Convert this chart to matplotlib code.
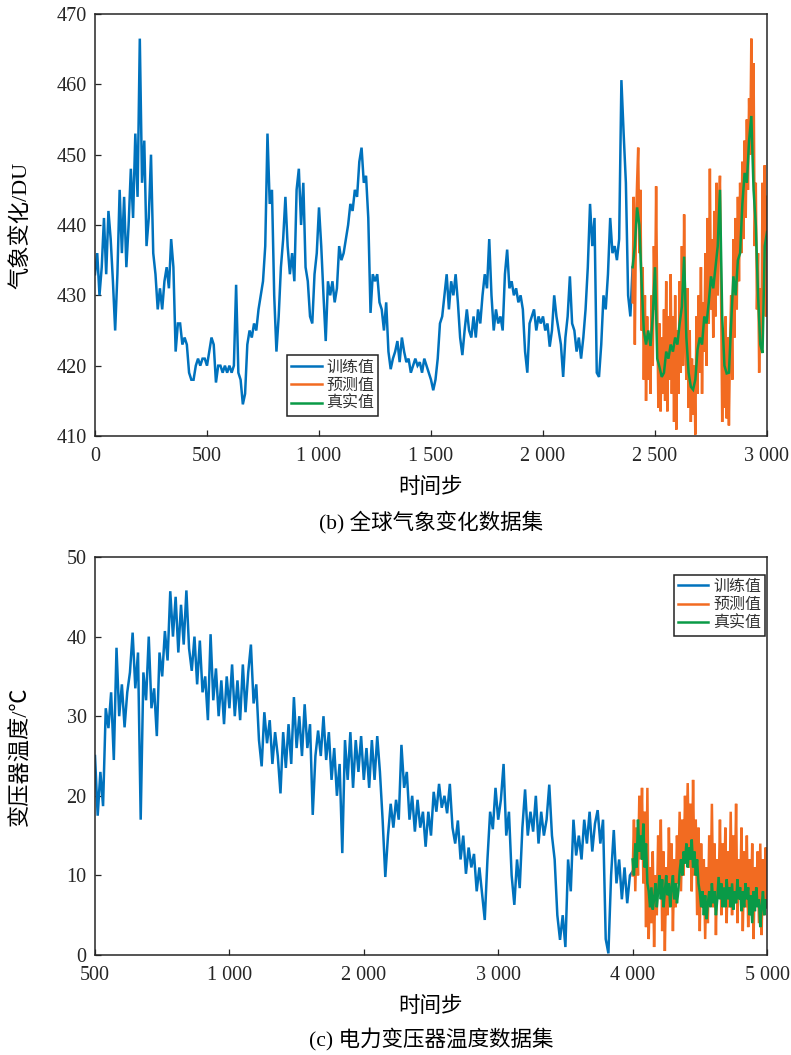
import numpy as np
import matplotlib
matplotlib.use("Agg")
import matplotlib.pyplot as plt

plt.rcParams['font.family'] = ['Liberation Serif', 'Noto Sans CJK SC', 'DejaVu Sans']
plt.rcParams['axes.unicode_minus'] = False

# ---------------- (b) global climate dataset ----------------
top_train_start, top_train_step = 0, 10
top_train = [
    433, 436, 430, 434, 441, 433, 442, 438, 432, 425,
    433, 445, 436, 444, 434, 440, 448, 441, 453, 444,
    466.5, 446, 452, 437, 441, 450, 436, 433, 428, 431,
    428, 432, 434, 431, 438, 434, 422, 426, 426, 423,
    424, 423, 419, 418, 418, 420, 421, 420, 421, 421,
    420, 422, 424, 423, 417.6, 420, 420, 419, 420, 419,
    420, 419, 420, 431.5, 419, 418, 414.5, 416, 423, 425,
    424, 426, 425, 428, 430, 432, 437, 453, 443, 445,
    430, 422, 427, 434, 438, 444, 437, 433, 436, 432,
    445, 448, 440, 446, 434, 432, 427, 426, 433, 436,
    442.5, 437, 430, 423.5, 432, 430, 432, 429, 431, 437,
    435, 436, 438, 440, 443, 442, 445, 444, 449, 451,
    446, 447, 441, 427.5, 433, 432, 433, 429, 428, 425,
    429, 422, 419.5, 421, 422, 423.5, 420.5, 424, 422, 420.5,
    421, 419, 420, 421, 420, 420.5, 419, 421, 420, 419,
    418, 416.5, 418, 421, 426, 427, 430, 433, 428, 432,
    430, 433, 429, 424, 421.5, 425, 428, 425, 424, 427,
    424, 428, 426, 430, 433, 431, 438, 430, 425, 428,
    426, 427, 425, 433, 436.5, 431, 432, 430, 431, 429,
    430, 428, 422, 419, 426, 427, 428, 425, 427, 426,
    427, 425, 426, 422.7, 425, 430, 427, 425, 423, 418.4,
    424, 427, 432.7, 426, 425, 422, 424, 421, 424, 428,
    434, 443, 437, 441, 419, 418.4, 423, 430, 428, 433,
    441, 436, 437, 435, 438, 460.6, 453, 446, 430, 427,
    434,
]
top_pred_start, top_pred_step = 2400, 5
top_pred = [
    429, 444, 423, 440, 446, 451, 436, 445, 425, 434,
    418, 430, 415, 427, 418, 424, 416, 430, 420, 437,
    428, 445.5, 428, 414, 426, 413.5, 424, 416, 428, 415,
    432, 413.5, 427, 418, 433, 416, 427, 412, 430, 410.9,
    425, 416, 432, 419, 437, 420, 441.5, 425, 418, 431,
    414, 425, 412, 421, 413, 420, 410.2, 427, 416, 430,
    419, 434, 416, 429, 422, 436, 420, 441, 426, 448,
    428, 438, 424, 442, 427, 446, 430, 441, 447, 430,
    412, 425, 414, 427, 412.5, 424, 411.5, 423, 430, 418,
    438, 424, 441, 428, 444, 432, 446, 436, 449, 438,
    452, 441, 455, 445, 458, 450, 466.5, 452, 463, 437,
    446, 428, 436, 419, 431, 422, 446, 431, 448.5, 427,
    444,
]
top_true_start, top_true_step = 2400, 10
top_true = [
    434, 437, 442.5, 440, 432, 425, 423, 425, 422.8, 427,
    434, 421, 419.8, 418.4, 419, 422, 421, 423, 422, 424,
    423, 426, 428.4, 435.5, 424, 419, 417, 416.6, 418, 422.3,
    424, 423, 427, 426, 429, 432.7, 431, 434, 437, 445,
    427, 420, 418.9, 419, 426, 432.7, 430, 435, 436, 443,
    447.4, 446, 452, 455.5, 445, 440, 430, 423, 421.8, 437,
    439,
]
top_xticks = [0, 500, 1000, 1500, 2000, 2500, 3000]
top_xticklabels = ['0', '500', '1 000', '1 500', '2 000', '2 500', '3 000']
top_yticks = [410, 420, 430, 440, 450, 460, 470]

# ---------------- (c) power transformer temperature dataset ----------------
bot_train_start, bot_train_step = 0, 20
bot_train = [
    25, 17.5, 23, 18.7, 31, 28.5, 33, 24.5, 38.6, 30,
    34, 28.6, 33, 35.5, 40.5, 33.5, 38, 17, 35.5, 32,
    40, 31, 33.5, 27.5, 38, 35, 40.7, 37, 45.7, 40,
    45, 38, 44, 39, 45.8, 38.5, 35.7, 40, 34, 39.5,
    33, 35, 29.5, 40.3, 32, 36, 30, 34.5, 29, 35,
    31, 36.5, 30, 34.5, 29.5, 36.5, 30.5, 35.5, 39, 31.6,
    34, 27, 23.7, 30.5, 26.6, 29.5, 24, 28, 25, 20.3,
    28, 23.5, 29, 24, 32.4, 26, 30, 25, 31.5, 26,
    29, 17.6, 25, 28.2, 25, 30, 24.5, 28, 22, 26,
    20, 24, 12.8, 27, 22, 28, 21, 27, 23, 27.5,
    22, 26, 21, 27, 22, 27.5, 23, 17, 9.8, 15,
    19, 16, 19.5, 17, 26.4, 21, 23, 17, 20, 15.5,
    19.5, 16, 18, 13.6, 18, 15, 20.5, 18, 21.5, 18.5,
    20, 17.8, 21.5, 16, 14, 16.9, 12, 15, 10.2, 13.5,
    11, 12.7, 8, 11, 7.7, 4.4, 12, 18, 15.8, 21,
    17, 19.5, 24, 15, 18, 10, 6.3, 12, 8.4, 16,
    20.8, 15, 18, 15.5, 20, 14, 18, 15, 17, 21.4,
    15, 12, 5, 1.9, 5, 1, 12, 8, 17, 12.5,
    15, 12, 17, 14, 18, 13, 16.5, 18.2, 14, 17,
    2, 0.2, 10, 15.7, 9, 12, 7, 11, 6.5, 10,
    10.5,
]
bot_pred_start, bot_pred_step = 4000, 10
bot_pred = [
    10, 17, 8, 16, 10, 20, 12, 21, 9, 18,
    3.5, 21, 2, 11, 4, 13, 1, 10, 5, 15,
    8, 17, 3, 13, 0.5, 11, 5, 16, 7, 14,
    3, 12, 6, 15, 9, 18, 8, 17, 10, 20,
    12, 21.6, 11, 19, 8, 22, 10, 17, 5, 16,
    3, 14, 6, 12, 2, 11, 4, 15, 7, 19,
    6, 14, 2.5, 12, 8, 17, 5, 14, 7, 16,
    4, 13, 6, 18, 5, 15, 8, 19, 4, 12,
    7, 16, 3, 13, 6, 15, 3.5, 12, 5, 14,
    2, 11, 7, 13, 4, 14, 2.5, 12, 5, 13.5,
    7,
]
bot_true_start, bot_true_step = 4000, 10
bot_true = [
    12, 10, 14, 11, 17, 13, 15, 12, 16.5, 11,
    14, 9, 8, 6, 8.5, 5.7, 7, 9, 6, 8,
    10, 7, 9.5, 6, 8, 10, 7.5, 9, 6, 8.5,
    10, 7, 9, 6.5, 8, 10.5, 12, 10, 13, 11.5,
    14, 11, 13.5, 12, 14.5, 11, 13, 10, 12, 9,
    7.9, 6, 8, 5, 7.5, 4.5, 6.5, 8, 6, 9,
    6.5, 8, 5, 7, 9.8, 7, 9, 6, 8.5, 6,
    9.5, 7, 8.5, 6, 9, 5.7, 8, 6.5, 9.5, 7,
    8.5, 5.5, 8, 6, 9, 7, 8.5, 5, 7.5, 4,
    8, 5.5, 8.5, 6, 7, 3.5, 6, 8, 5, 7,
    6,
]
bot_xticks = [0, 1000, 2000, 3000, 4000, 5000]
bot_xticklabels = ['500', '1 000', '2 000', '3 000', '4 000', '5 000']
bot_yticks = [0, 10, 20, 30, 40, 50]

legend_labels = ['训练值', '预测值', '真实值']
colors = ['#0072BD', '#F26B21', '#0A9A47']


def xs(start, step, vals):
    return start + step * np.arange(len(vals))


fig = plt.figure(figsize=(7.91, 10.55), dpi=100)
W, H = 791, 1055
ax1 = fig.add_axes([95 / W, 1 - 436 / H, 672 / W, 422 / H])
ax2 = fig.add_axes([95 / W, 1 - 955 / H, 672 / W, 398 / H])

lw = 1.8
for ax, (tr, pr, tt) in [
    (ax1, ((top_train_start, top_train_step, top_train),
           (top_pred_start, top_pred_step, top_pred),
           (top_true_start, top_true_step, top_true))),
    (ax2, ((bot_train_start, bot_train_step, bot_train),
           (bot_pred_start, bot_pred_step, bot_pred),
           (bot_true_start, bot_true_step, bot_true))),
]:
    for (s, st, v), c, lab in zip((tr, pr, tt), colors, legend_labels):
        ax.plot(xs(s, st, v), v, color=c, lw=lw, label=lab, solid_joinstyle='miter')

ax1.set_xlim(0, 3000)
ax1.set_ylim(410, 470)
ax1.set_xticks(top_xticks)
ax1.set_xticklabels(top_xticklabels)
ax1.set_yticks(top_yticks)

ax2.set_xlim(0, 5000)
ax2.set_ylim(0, 50)
ax2.set_xticks(bot_xticks)
ax2.set_xticklabels(bot_xticklabels)
ax2.set_yticks(bot_yticks)

for ax in (ax1, ax2):
    for sp in ax.spines.values():
        sp.set_linewidth(1.1)
        sp.set_color('#262626')
    ax.tick_params(direction='in', length=4, width=0.9, top=False, right=False,
                   labelsize=14.5, colors='#262626')
    ax.tick_params(axis='y', pad=6)
    ax.tick_params(axis='x', pad=8)

ax1.set_xlabel('时间步', fontsize=15.5)
ax1.xaxis.set_label_coords(0.5, -0.1)
ax1.set_ylabel('气象变化/DU', fontsize=16)
ax1.yaxis.set_label_coords(-0.094, 0.5)

ax2.set_xlabel('时间步', fontsize=15.5)
ax2.xaxis.set_label_coords(0.5, -0.105)
ax2.set_ylabel('变压器温度/℃', fontsize=16)
ax2.yaxis.set_label_coords(-0.094, 0.5)

cx = (95 + 767) / 2 / W
fig.text(cx, 1 - 522 / H, '(b) 全球气象变化数据集', ha='center', va='center', fontsize=15.5)
fig.text(cx, 1 - 1040 / H, '(c) 电力变压器温度数据集', ha='center', va='center', fontsize=15.5)

leg_kw = dict(fontsize=11.5, frameon=True, fancybox=False, framealpha=1,
              edgecolor='#222222', borderpad=0.25, labelspacing=0.15,
              handlelength=1.9, handletextpad=0.3, borderaxespad=0.0)
l1 = ax1.legend(loc='lower left', bbox_to_anchor=(0.286, 0.047), **leg_kw)
l2 = ax2.legend(loc='upper right', bbox_to_anchor=(0.997, 0.955), **leg_kw)
for lg in (l1, l2):
    lg.get_frame().set_linewidth(1.1)
    for t in lg.get_texts():
        t.set_color('#333333')

fig.savefig('out.png', dpi=100)
